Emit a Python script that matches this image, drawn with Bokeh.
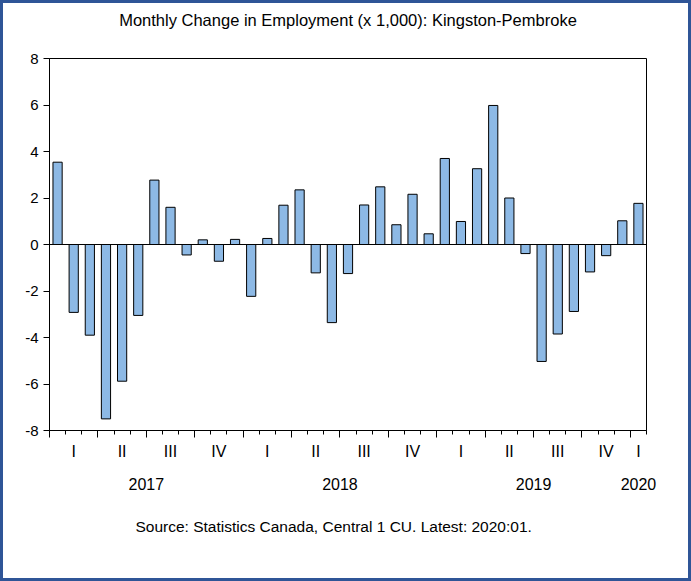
from bokeh.plotting import figure
from bokeh.models import FixedTicker, Span, ColumnDataSource, Range1d, LinearAxis, Title
from bokeh.embed import file_html
from bokeh.resources import INLINE

# ---- data ----
months = ["2017:01", "2017:02", "2017:03", "2017:04", "2017:05", "2017:06",
          "2017:07", "2017:08", "2017:09", "2017:10", "2017:11", "2017:12",
          "2018:01", "2018:02", "2018:03", "2018:04", "2018:05", "2018:06",
          "2018:07", "2018:08", "2018:09", "2018:10", "2018:11", "2018:12",
          "2019:01", "2019:02", "2019:03", "2019:04", "2019:05", "2019:06",
          "2019:07", "2019:08", "2019:09", "2019:10", "2019:11", "2019:12",
          "2020:01"]
values = [3.54, -2.92, -3.9, -7.5, -5.88, -3.05, 2.77, 1.6, -0.45, 0.2, -0.72, 0.22,
          -2.23, 0.26, 1.69, 2.35, -1.22, -3.36, -1.25, 1.7, 2.48, 0.85, 2.16, 0.46,
          3.7, 0.99, 3.26, 5.98, 2.0, -0.39, -5.03, -3.85, -2.88, -1.18, -0.48, 1.02,
          1.77]
quarter_labels = ["I", "II", "III", "IV", "I", "II", "III", "IV",
                  "I", "II", "III", "IV", "I"]
quarter_first_month = [1, 4, 7, 10, 13, 16, 19, 22, 25, 28, 31, 34, 37]
quarter_last_month = [3, 6, 9, 12, 15, 18, 21, 24, 27, 30, 33, 36, 37]
year_labels = ["2017", "2018", "2019", "2020"]
year_first_month = [1, 13, 25, 37]
year_last_month = [12, 24, 36, 37]
y_ticks = [-8, -6, -4, -2, 0, 2, 4, 6, 8]

title_text = "Monthly Change in Employment (x 1,000): Kingston-Pembroke"
source_text = "Source: Statistics Canada, Central 1 CU. Latest: 2020:01."

FONT = "Liberation Sans"
BLUE_BORDER = "#2F5597"


def num(v):
    return int(v) if float(v).is_integer() else float(v)


idx = list(range(1, len(months) + 1))
src = ColumnDataSource(dict(x=idx, top=values, month=months))
x_lo, x_hi = 0.5, len(months) + 0.5

p = figure(width=691, height=581, output_backend="svg", toolbar_location=None,
           x_range=Range1d(x_lo, x_hi), y_range=Range1d(-8, 8),
           min_border_left=49, min_border_right=45, min_border_top=58,
           min_border_bottom=151)
p.title.visible = False

p.background_fill_color = "white"
p.border_fill_color = None
p.outline_line_color = "black"
p.outline_line_width = 1
p.xgrid.visible = False
p.ygrid.visible = False
p.styles = {"box-shadow": f"inset 0 0 0 3px {BLUE_BORDER}", "background-color": "white"}

p.vbar(x="x", top="top", bottom=0, width=0.57, source=src,
       fill_color="#8DB9E5", line_color="black", line_width=1)

p.add_layout(Span(location=0, dimension="width", line_color="black", line_width=1))

# y axis
p.yaxis.ticker = FixedTicker(ticks=y_ticks, minor_ticks=[])
p.yaxis.axis_line_color = "black"
p.yaxis.major_tick_line_color = "black"
p.yaxis.major_tick_in = 0
p.yaxis.major_tick_out = 6
p.yaxis.minor_tick_line_color = None
p.yaxis.major_label_text_font = FONT
p.yaxis.major_label_text_font_size = "15px"
p.yaxis.major_label_text_color = "black"
p.yaxis.major_label_standoff = 5
p.yaxis.major_label_overrides = {t: str(t) for t in y_ticks}

# x axis: month ticks (minor) and quarter ticks (major), no labels
q_bounds = [m - 0.5 for m in quarter_first_month]
m_bounds = [i - 0.5 for i in idx] + [x_hi]
p.xaxis.ticker = FixedTicker(ticks=q_bounds, minor_ticks=m_bounds)
p.xaxis.axis_line_color = "black"
p.xaxis.major_tick_line_color = "black"
p.xaxis.minor_tick_line_color = "black"
p.xaxis.major_tick_in = 0
p.xaxis.major_tick_out = 7
p.xaxis.minor_tick_in = 0
p.xaxis.minor_tick_out = 4
p.xaxis.major_label_overrides = {t: "" for t in q_bounds}
p.xaxis.major_label_text_font_size = "0px"
p.xaxis.major_label_standoff = 0


def label_axis(positions, labels, standoff, side="below", size="16px"):
    ax = LinearAxis(ticker=FixedTicker(ticks=positions, minor_ticks=[]),
                    major_label_overrides={t: s for t, s in zip(positions, labels)},
                    axis_line_color=None, major_tick_line_color=None,
                    minor_tick_line_color=None, major_tick_out=0, major_tick_in=0,
                    major_label_standoff=standoff, major_label_text_font=FONT,
                    major_label_text_font_size=size, major_label_text_color="black")
    p.add_layout(ax, side)
    return ax


# chart title, centred over the plot frame
label_axis([num((x_lo + x_hi) / 2)], [title_text], 30, side="above", size="16.5px")

q_pos = [num((a + b) / 2) for a, b in zip(quarter_first_month, quarter_last_month)]
label_axis(q_pos, quarter_labels, 5)
y_pos = [num((a + b) / 2) for a, b in zip(year_first_month, year_last_month)]
label_axis(y_pos, year_labels, 15)

p.add_layout(Title(text=source_text, text_font=FONT, text_font_size="15.5px",
                   text_font_style="normal", text_color="black", align="left",
                   offset=86, standoff=46), "below")

open("out.html", "w").write(file_html(p, INLINE))
